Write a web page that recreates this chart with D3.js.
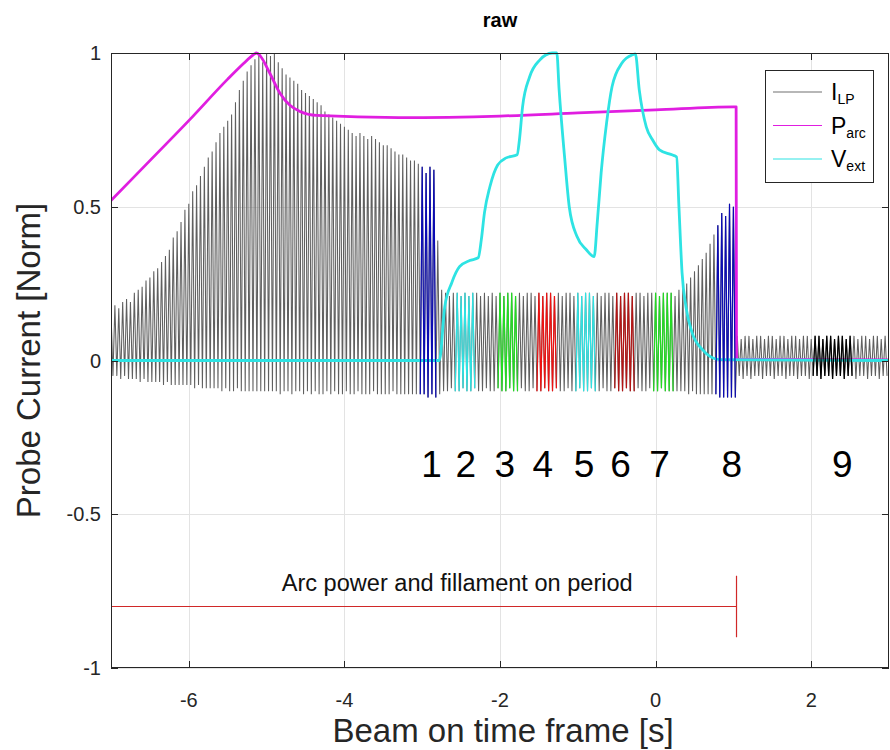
<!DOCTYPE html>
<html>
<head>
<meta charset="utf-8">
<script src="https://cdn.jsdelivr.net/npm/d3@7"></script>
<style>
  html, body { margin: 0; padding: 0; background: #fff; }
  svg { display: block; font-family: "Liberation Sans", Arial, Helvetica, sans-serif; }
</style>
</head>
<body>
<svg id="chart" width="890" height="750"></svg>
<script>
// ---- probe current pulses (20 Hz), normalised peak / trough per pulse ----
const pulseStart = -7.0;
const pulsePeriod = 0.05;
const pulseHigh = [
  0.16,0.18,0.17,0.19,0.20,0.19,0.22,0.23,0.24,0.26,0.27,0.29,0.30,0.32,0.34,0.36,0.40,0.42,0.45,0.49,
  0.51,0.55,0.57,0.60,0.63,0.66,0.68,0.71,0.74,0.76,0.78,0.80,0.84,0.88,0.91,0.94,0.96,0.98,0.99,0.97,
  1.00,0.99,1.00,0.97,0.95,0.93,0.92,0.91,0.90,0.88,0.87,0.86,0.85,0.84,0.83,0.81,0.80,0.79,0.78,0.77,
  0.76,0.75,0.74,0.73,0.74,0.73,0.72,0.73,0.72,0.71,0.70,0.70,0.69,0.68,0.67,0.67,0.66,0.65,0.65,0.64,
  0.63,0.61,0.63,0.62,0.39,0.23,0.22,0.21,0.22,0.22,0.21,0.22,0.21,0.22,0.22,0.21,0.22,0.21,0.22,0.21,
  0.22,0.21,0.22,0.22,0.21,0.22,0.21,0.22,0.22,0.21,0.22,0.21,0.22,0.22,0.21,0.22,0.21,0.22,0.22,0.21,
  0.22,0.21,0.22,0.22,0.21,0.22,0.21,0.22,0.22,0.21,0.22,0.21,0.22,0.22,0.21,0.22,0.22,0.21,0.22,0.22,
  0.22,0.21,0.22,0.22,0.22,0.21,0.23,0.24,0.25,0.27,0.29,0.31,0.33,0.35,0.38,0.41,0.44,0.48,0.47,0.51,
  0.50,0.08,0.07,0.08,0.08,0.07,0.08,0.08,0.07,0.08,0.08,0.07,0.08,0.08,0.07,0.08,0.08,0.07,0.08,0.08,
  0.07,0.08,0.08,0.07,0.08,0.08,0.07,0.08,0.08,0.07,0.08,0.08,0.07,0.08,0.08,0.07,0.08,0.08,0.07,0.08
];
const pulseLow = [
  -0.05,-0.05,-0.06,-0.05,-0.06,-0.06,-0.06,-0.07,-0.06,-0.07,-0.07,-0.07,-0.07,-0.08,-0.07,-0.08,-0.08,-0.08,-0.08,-0.08,
  -0.08,-0.09,-0.08,-0.09,-0.09,-0.09,-0.09,-0.09,-0.10,-0.09,-0.10,-0.10,-0.09,-0.10,-0.10,-0.10,-0.10,-0.10,-0.10,-0.10,
  -0.10,-0.10,-0.10,-0.11,-0.10,-0.10,-0.11,-0.10,-0.10,-0.11,-0.10,-0.11,-0.10,-0.11,-0.11,-0.10,-0.11,-0.10,-0.11,-0.11,
  -0.10,-0.11,-0.11,-0.10,-0.11,-0.11,-0.11,-0.10,-0.11,-0.11,-0.11,-0.11,-0.10,-0.11,-0.11,-0.11,-0.11,-0.11,-0.11,-0.11,
  -0.11,-0.12,-0.11,-0.12,-0.11,-0.10,-0.10,-0.09,-0.10,-0.10,-0.09,-0.10,-0.10,-0.09,-0.10,-0.10,-0.09,-0.10,-0.10,-0.09,
  -0.10,-0.10,-0.09,-0.10,-0.10,-0.09,-0.10,-0.10,-0.09,-0.10,-0.10,-0.09,-0.10,-0.10,-0.09,-0.10,-0.10,-0.09,-0.10,-0.10,
  -0.09,-0.10,-0.10,-0.09,-0.10,-0.10,-0.09,-0.10,-0.10,-0.09,-0.10,-0.10,-0.09,-0.10,-0.10,-0.09,-0.10,-0.10,-0.09,-0.10,
  -0.10,-0.09,-0.10,-0.10,-0.10,-0.10,-0.10,-0.10,-0.11,-0.10,-0.11,-0.11,-0.11,-0.11,-0.11,-0.11,-0.12,-0.12,-0.12,-0.12,
  -0.12,-0.05,-0.06,-0.05,-0.06,-0.05,-0.05,-0.06,-0.05,-0.05,-0.06,-0.05,-0.05,-0.06,-0.05,-0.05,-0.06,-0.05,-0.05,-0.06,
  -0.05,-0.05,-0.06,-0.05,-0.05,-0.06,-0.05,-0.05,-0.06,-0.05,-0.05,-0.06,-0.05,-0.05,-0.06,-0.05,-0.05,-0.06,-0.05,-0.05
];

// ---- arc power (normalised) ----
const arcTime  = [-7.00,-6.50,-6.00,-5.50,-5.30,-5.20,-5.13,-5.08,-4.96,-4.83,-4.70,-4.57,-4.36,-3.30,-2.00,-1.00,0.00,1.00,1.035,1.04,3.00];
const arcPower = [ 0.52, 0.65, 0.78, 0.915,0.965,0.988,1.00, 0.99, 0.935,0.87, 0.83, 0.81, 0.797,0.79, 0.795,0.805,0.815,0.825,0.825,0.004,0.002];

// ---- extraction voltage (normalised) ----
const extTime = [-7.00,-2.78,-2.71,-2.62,-2.52,-2.39,-2.28,-2.24,-2.20,-2.13,-2.03,-1.92,-1.78,-1.75,-1.71,-1.62,-1.49,-1.33,-1.27,
                 -1.24,-1.17,-1.11,-1.01,-0.89,-0.79,-0.75,-0.70,-0.63,-0.56,-0.43,-0.30,-0.26,-0.21,-0.12,-0.04,0.05,0.21,0.27,
                 0.30,0.34,0.39,0.47,0.60,0.82,3.00];
const extVolt = [0.00,0.00,0.175,0.253,0.305,0.325,0.334,0.393,0.48,0.565,0.636,0.659,0.669,0.718,0.825,0.922,0.977,1.00,1.00,
                 0.88,0.662,0.50,0.403,0.36,0.338,0.448,0.61,0.773,0.89,0.968,0.994,0.997,0.88,0.76,0.718,0.685,0.669,0.662,
                 0.50,0.286,0.175,0.09,0.036,0.003,0.00];

// ---- highlighted pulse windows ----
const groupLabels = ["1","2","3","4","5","6","7","8","9"];
const groupStart  = [-3.02,-2.57,-2.02,-1.52,-1.02,-0.52,-0.02, 0.78, 2.03];
const groupEnd    = [-2.83,-2.33,-1.78,-1.28,-0.78,-0.28, 0.22, 1.02, 2.52];
const groupColor  = ["#0a0ab4","#2ee3e3","#22dd22","#ee1111","#2ee3e3","#b51414","#22dd22","#0a0ab4","#000000"];
const groupLabelX = [-2.88,-2.44,-1.94,-1.45,-0.92,-0.45, 0.05, 0.98, 2.40];
const groupLabelY = -0.38;

// ---- arc-on period marker ----
const periodStart = -7.0, periodEnd = 1.04, periodLevel = -0.8, periodHalfHeight = 0.1;
const periodText = "Arc power and fillament on period";
const periodTextX = -2.55, periodTextY = -0.75;

// ---- axes ----
const xTicks = [-6, -4, -2, 0, 2];
const yTicks = [-1, -0.5, 0, 0.5, 1];
const titleText = "raw";
const xLabel = "Beam on time frame [s]";
const yLabel = "Probe Current [Norm]";
const legendItems = [
  { main: "I", sub: "LP",  color: "#707070" },
  { main: "P", sub: "arc", color: "#e01ee0" },
  { main: "V", sub: "ext", color: "#2ee3e3" }
];

const svg = d3.select("#chart");
const L = 111, R = 889, T = 53, B = 668;
const x = d3.scaleLinear().domain([-7, 3]).range([L, R]);
const y = d3.scaleLinear().domain([-1, 1]).range([B, T]);

svg.append("rect").attr("width", 890).attr("height", 750).attr("fill", "#fff");

// grid
const grid = svg.append("g").attr("stroke", "#e3e3e3").attr("stroke-width", 1);
xTicks.forEach(v => grid.append("line")
  .attr("x1", Math.round(x(v)) + 0.5).attr("x2", Math.round(x(v)) + 0.5).attr("y1", T).attr("y2", B));
yTicks.forEach(v => grid.append("line")
  .attr("y1", Math.round(y(v)) + 0.5).attr("y2", Math.round(y(v)) + 0.5).attr("x1", L).attr("x2", R));

svg.append("clipPath").attr("id", "plotclip")
  .append("rect").attr("x", L).attr("y", T - 2).attr("width", R - L).attr("height", B - T + 4);
const plot = svg.append("g").attr("clip-path", "url(#plotclip)");

// pulse geometry: peak at each pulse time, trough half a period later
const pulses = pulseHigh.map((h, i) => ({ t: pulseStart + i * pulsePeriod, hi: h, lo: pulseLow[i] }));
const line = d3.line().x(d => x(d[0])).y(d => y(d[1]));
const smooth = d3.line().x(d => x(d[0])).y(d => y(d[1])).curve(d3.curveMonotoneX);
function pulsePoints(list) {
  const pts = [];
  list.forEach(p => { pts.push([p.t, p.hi]); pts.push([p.t + pulsePeriod / 2, p.lo]); });
  return pts;
}

plot.append("path").attr("d", line(pulsePoints(pulses)))
  .attr("fill", "none").attr("stroke", "#5f5f5f").attr("stroke-width", 1.05);

// arc power
plot.append("path").attr("d", smooth(arcTime.map((t, i) => [t, arcPower[i]])))
  .attr("fill", "none").attr("stroke", "#e01ee0").attr("stroke-width", 2.8).attr("stroke-linejoin", "round");

// extraction voltage
plot.append("path").attr("d", smooth(extTime.map((t, i) => [t, extVolt[i]])))
  .attr("fill", "none").attr("stroke", "#2ee3e3").attr("stroke-width", 2.8).attr("stroke-linejoin", "round");

// highlighted pulse windows
groupLabels.forEach((lab, g) => {
  const sel = pulses.filter(p => p.t >= groupStart[g] && p.t <= groupEnd[g]);
  if (!sel.length) return;
  const idx = pulses.indexOf(sel[0]);
  const prev = pulses[idx - 1];
  const pts = [[prev.t + pulsePeriod / 2, prev.lo]].concat(pulsePoints(sel));
  plot.append("path").attr("d", line(pts))
    .attr("fill", "none").attr("stroke", groupColor[g]).attr("stroke-width", 1.2);
});

// window numbers
svg.append("g").selectAll("text").data(groupLabels).join("text")
  .attr("x", (d, i) => x(groupLabelX[i])).attr("y", y(groupLabelY))
  .attr("text-anchor", "middle").attr("font-size", 37).attr("fill", "#000")
  .text(d => d);

// arc-on period marker
svg.append("line").attr("x1", x(periodStart)).attr("x2", x(periodEnd))
  .attr("y1", y(periodLevel)).attr("y2", y(periodLevel))
  .attr("stroke", "#d02828").attr("stroke-width", 1.2);
svg.append("line").attr("x1", x(periodEnd)).attr("x2", x(periodEnd))
  .attr("y1", y(periodLevel + periodHalfHeight)).attr("y2", y(periodLevel - periodHalfHeight))
  .attr("stroke", "#d02828").attr("stroke-width", 1.2);
svg.append("text").attr("x", x(periodTextX)).attr("y", y(periodTextY))
  .attr("text-anchor", "middle").attr("font-size", 23.5).attr("fill", "#111")
  .attr("textLength", 351).attr("lengthAdjust", "spacingAndGlyphs")
  .text(periodText);

// axes box and ticks
const axisColor = "#262626";
const box = svg.append("g").attr("stroke", axisColor).attr("stroke-width", 1).attr("fill", "none");
box.append("rect").attr("x", L + 0.5).attr("y", T + 0.5).attr("width", R - L - 1).attr("height", B - T - 1);
xTicks.forEach(v => {
  const px = Math.round(x(v)) + 0.5;
  box.append("line").attr("x1", px).attr("x2", px).attr("y1", B).attr("y2", B - 7);
  box.append("line").attr("x1", px).attr("x2", px).attr("y1", T).attr("y2", T + 7);
});
yTicks.forEach(v => {
  const py = Math.round(y(v)) + 0.5;
  box.append("line").attr("y1", py).attr("y2", py).attr("x1", L).attr("x2", L + 7);
  box.append("line").attr("y1", py).attr("y2", py).attr("x1", R).attr("x2", R - 7);
});

svg.append("g").selectAll("text").data(xTicks).join("text")
  .attr("x", d => x(d)).attr("y", B + 39).attr("text-anchor", "middle")
  .attr("font-size", 20).attr("fill", axisColor).text(d => d);
svg.append("g").selectAll("text").data(yTicks).join("text")
  .attr("x", L - 10).attr("y", d => y(d)).attr("dy", "0.35em").attr("text-anchor", "end")
  .attr("font-size", 20).attr("fill", axisColor).text(d => d);

// titles
svg.append("text").attr("x", (L + R) / 2).attr("y", 27).attr("text-anchor", "middle")
  .attr("font-size", 20).attr("font-weight", "bold").attr("fill", "#000").text(titleText);
svg.append("text").attr("x", (L + R) / 2 + 3).attr("y", 742).attr("text-anchor", "middle")
  .attr("font-size", 33).attr("fill", axisColor).text(xLabel);
svg.append("text").attr("transform", `translate(40,${(T + B) / 2}) rotate(-90)`)
  .attr("text-anchor", "middle").attr("font-size", 33).attr("fill", axisColor).text(yLabel);

// legend
const lg = svg.append("g").attr("transform", "translate(765,70)");
lg.append("rect").attr("x", 0.5).attr("y", 0.5).attr("width", 108).attr("height", 112)
  .attr("fill", "#fff").attr("stroke", axisColor).attr("stroke-width", 1);
legendItems.forEach((it, i) => {
  const cy = 22 + i * 33.5;
  lg.append("line").attr("x1", 8).attr("x2", 57).attr("y1", cy).attr("y2", cy)
    .attr("stroke", it.color).attr("stroke-width", 1.2);
  const t = lg.append("text").attr("x", 66).attr("y", cy + 8).attr("font-size", 23).attr("fill", "#000");
  t.append("tspan").text(it.main);
  t.append("tspan").attr("font-size", 14).attr("dy", 4).text(it.sub);
});
</script>
</body>
</html>
